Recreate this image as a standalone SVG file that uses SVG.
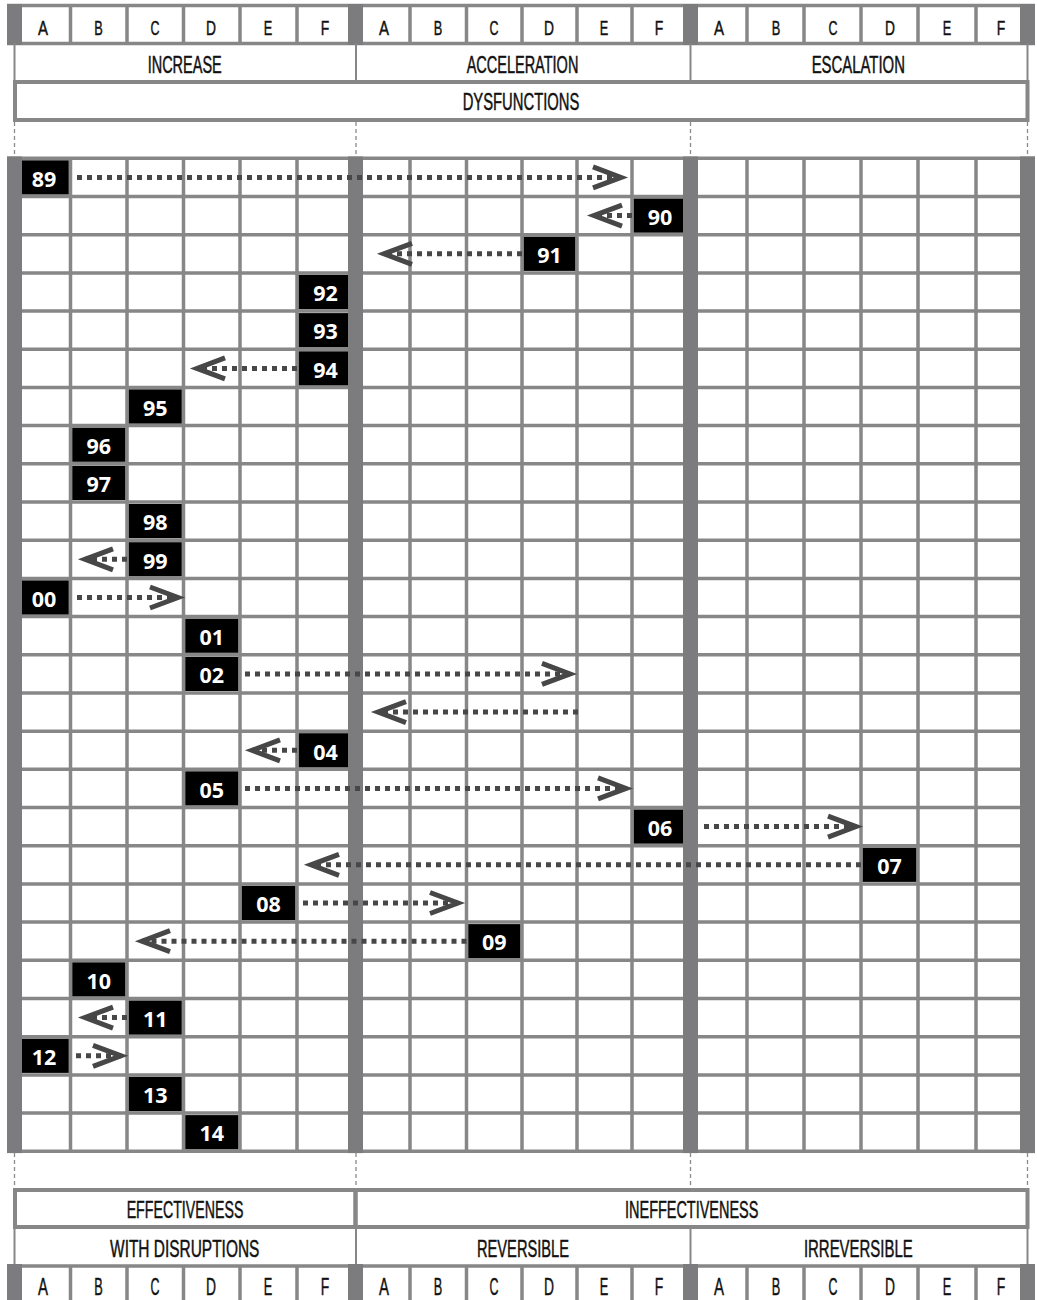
<svg xmlns="http://www.w3.org/2000/svg" width="1037" height="1300" viewBox="0 0 1037 1300">
<style>
.ln{stroke:#878787;stroke-width:3.5;fill:none}
.thin{stroke:#878787;stroke-width:2;fill:none}
.bar{fill:#7c7c7e}
.dsh{stroke:#8a8a8a;stroke-width:1.3;stroke-dasharray:4 3;fill:none}
.box{fill:none;stroke:#878787;stroke-width:4}
.hl{font-family:"Liberation Sans",Arial,sans-serif;font-size:21px;fill:#111;stroke:#111;stroke-width:0.45;text-anchor:middle}
.bl{font-family:"Liberation Sans",Arial,sans-serif;font-size:23px;fill:#111;stroke:#111;stroke-width:0.45;text-anchor:middle}
.sec{font-family:"Liberation Sans",Arial,sans-serif;font-size:24px;fill:#111;stroke:#111;stroke-width:0.5;text-anchor:middle}
.nb{fill:#000}
.lab{font-family:"Open Sans","DejaVu Sans",sans-serif;font-weight:700;font-size:21.5px;fill:#fff;text-anchor:middle}
.arr{stroke:#474747;stroke-width:5;stroke-dasharray:5 5;fill:none;marker-end:url(#ah)}
</style>
<defs>
<marker id="ah" markerUnits="userSpaceOnUse" viewBox="-40 -20 60 40" markerWidth="60" markerHeight="40" refX="0" refY="0" orient="auto" overflow="visible">
<path d="M-28,-10.5 L0,0 L-28,10.5" fill="none" stroke="#474747" stroke-width="5" stroke-linejoin="miter" stroke-miterlimit="6"/>
</marker>
</defs>
<rect x="0" y="0" width="1037" height="1300" fill="#fff"/>

<!-- top column header -->
<g id="top-header">
<path class="ln" d="M7,5.5H1035M7,43.5H1035M70.5,5.5V43.5M127,5.5V43.5M183.5,5.5V43.5M240,5.5V43.5M297,5.5V43.5M410,5.5V43.5M466.5,5.5V43.5M522,5.5V43.5M577,5.5V43.5M632,5.5V43.5M747,5.5V43.5M804,5.5V43.5M861,5.5V43.5M918,5.5V43.5M976,5.5V43.5"/>
<rect class="bar" x="7" y="4" width="15" height="41"/>
<rect class="bar" x="348" y="4" width="15" height="41"/>
<rect class="bar" x="683" y="4" width="15" height="41"/>
<rect class="bar" x="1020" y="4" width="15" height="41"/>
<text class="hl" x="43" y="34.5" textLength="10" lengthAdjust="spacingAndGlyphs">A</text>
<text class="hl" x="98.5" y="34.5" textLength="8.5" lengthAdjust="spacingAndGlyphs">B</text>
<text class="hl" x="155" y="34.5" textLength="9" lengthAdjust="spacingAndGlyphs">C</text>
<text class="hl" x="211" y="34.5" textLength="10" lengthAdjust="spacingAndGlyphs">D</text>
<text class="hl" x="268" y="34.5" textLength="8.5" lengthAdjust="spacingAndGlyphs">E</text>
<text class="hl" x="325" y="34.5" textLength="8.5" lengthAdjust="spacingAndGlyphs">F</text>
<text class="hl" x="384" y="34.5" textLength="10" lengthAdjust="spacingAndGlyphs">A</text>
<text class="hl" x="438" y="34.5" textLength="8.5" lengthAdjust="spacingAndGlyphs">B</text>
<text class="hl" x="494" y="34.5" textLength="9" lengthAdjust="spacingAndGlyphs">C</text>
<text class="hl" x="549" y="34.5" textLength="10" lengthAdjust="spacingAndGlyphs">D</text>
<text class="hl" x="604" y="34.5" textLength="8.5" lengthAdjust="spacingAndGlyphs">E</text>
<text class="hl" x="659" y="34.5" textLength="8.5" lengthAdjust="spacingAndGlyphs">F</text>
<text class="hl" x="719" y="34.5" textLength="10" lengthAdjust="spacingAndGlyphs">A</text>
<text class="hl" x="776" y="34.5" textLength="8.5" lengthAdjust="spacingAndGlyphs">B</text>
<text class="hl" x="833" y="34.5" textLength="9" lengthAdjust="spacingAndGlyphs">C</text>
<text class="hl" x="890" y="34.5" textLength="10" lengthAdjust="spacingAndGlyphs">D</text>
<text class="hl" x="947" y="34.5" textLength="8.5" lengthAdjust="spacingAndGlyphs">E</text>
<text class="hl" x="1001" y="34.5" textLength="8.5" lengthAdjust="spacingAndGlyphs">F</text>
</g>

<g id="top-sections">
<path class="thin" d="M14.5,43.5V82M356,43.5V82M690.5,43.5V82M1027.5,43.5V82"/>
<text class="sec" x="184.7" y="73.3" textLength="74" lengthAdjust="spacingAndGlyphs">INCREASE</text>
<text class="sec" x="522.5" y="73" textLength="111.7" lengthAdjust="spacingAndGlyphs">ACCELERATION</text>
<text class="sec" x="858.3" y="73" textLength="93.3" lengthAdjust="spacingAndGlyphs">ESCALATION</text>
</g>
<g id="dysfunctions">
<rect class="box" x="15" y="82" width="1012.5" height="38"/>
<text class="sec" x="521" y="110" textLength="116.7" lengthAdjust="spacingAndGlyphs">DYSFUNCTIONS</text>
</g>
<path class="dsh" d="M14.5,122V157M356,122V157M690.5,122V157M1027.5,122V157"/>

<!-- main grid -->
<g id="grid">
<path class="ln" d="M7,158.3H1035M7,196.5H1035M7,234.7H1035M7,272.9H1035M7,311.1H1035M7,349.3H1035M7,387.4H1035M7,425.6H1035M7,463.8H1035M7,502H1035M7,540.2H1035M7,578.4H1035M7,616.6H1035M7,654.8H1035M7,693H1035M7,731.2H1035M7,769.3H1035M7,807.5H1035M7,845.7H1035M7,883.9H1035M7,922.1H1035M7,960.3H1035M7,998.5H1035M7,1036.7H1035M7,1074.9H1035M7,1113.1H1035M7,1151.3H1035"/>
<path class="ln" d="M70.5,158.3V1151.3M127,158.3V1151.3M183.5,158.3V1151.3M240,158.3V1151.3M297,158.3V1151.3M410,158.3V1151.3M466.5,158.3V1151.3M522,158.3V1151.3M577,158.3V1151.3M632,158.3V1151.3M747,158.3V1151.3M804,158.3V1151.3M861,158.3V1151.3M918,158.3V1151.3M976,158.3V1151.3"/>
<rect class="bar" x="7" y="156.5" width="15" height="996.6"/>
<rect class="bar" x="348" y="156.5" width="15" height="996.6"/>
<rect class="bar" x="683" y="156.5" width="15" height="996.6"/>
<rect class="bar" x="1020" y="156.5" width="15" height="996.6"/>
</g>

<!-- connectors -->
<g id="connectors">
<path class="arr" d="M77,177.4H621"/>
<path class="arr" d="M632,215.6H594"/>
<path class="arr" d="M522,253.8H384"/>
<path class="arr" d="M297,368.4H197"/>
<path class="arr" d="M127,559.3H85"/>
<path class="arr" d="M77,597.5H178"/>
<path class="arr" d="M245,673.9H570"/>
<path class="arr" d="M578,712.1H378"/>
<path class="arr" d="M297,750.3H252"/>
<path class="arr" d="M245,788.4H626"/>
<path class="arr" d="M704,826.6H856"/>
<path class="arr" d="M861,864.8H311"/>
<path class="arr" d="M303,903H458"/>
<path class="arr" d="M466.5,941.2H142"/>
<path class="arr" d="M127,1017.6H85"/>
<path class="arr" d="M76,1055.8H121"/>
</g>

<!-- nodes -->
<g id="n89"><rect class="nb" x="22" y="160.3" width="46.75" height="34.2"/><text class="lab" x="44" y="186.6">89</text></g>
<g id="n90"><rect class="nb" x="633.75" y="198.5" width="49.25" height="34.2"/><text class="lab" x="660" y="224.8">90</text></g>
<g id="n91"><rect class="nb" x="523.75" y="236.7" width="51.5" height="34.2"/><text class="lab" x="549.5" y="263">91</text></g>
<g id="n92"><rect class="nb" x="298.75" y="274.9" width="49.25" height="34.2"/><text class="lab" x="325.5" y="301.2">92</text></g>
<g id="n93"><rect class="nb" x="298.75" y="313.1" width="49.25" height="34.2"/><text class="lab" x="325.5" y="339.4">93</text></g>
<g id="n94"><rect class="nb" x="298.75" y="351.3" width="49.25" height="34.2"/><text class="lab" x="325.5" y="377.6">94</text></g>
<g id="n95"><rect class="nb" x="128.75" y="389.4" width="53" height="34.2"/><text class="lab" x="155.2" y="415.7">95</text></g>
<g id="n96"><rect class="nb" x="72.25" y="427.6" width="53" height="34.2"/><text class="lab" x="98.7" y="453.9">96</text></g>
<g id="n97"><rect class="nb" x="72.25" y="465.8" width="53" height="34.2"/><text class="lab" x="98.7" y="492.1">97</text></g>
<g id="n98"><rect class="nb" x="128.75" y="504" width="53" height="34.2"/><text class="lab" x="155.2" y="530.3">98</text></g>
<g id="n99"><rect class="nb" x="128.75" y="542.2" width="53" height="34.2"/><text class="lab" x="155.2" y="568.5">99</text></g>
<g id="n00"><rect class="nb" x="22" y="580.4" width="46.75" height="34.2"/><text class="lab" x="44" y="606.7">00</text></g>
<g id="n01"><rect class="nb" x="185.25" y="618.6" width="53" height="34.2"/><text class="lab" x="211.7" y="644.9">01</text></g>
<g id="n02"><rect class="nb" x="185.25" y="656.8" width="53" height="34.2"/><text class="lab" x="211.7" y="683.1">02</text></g>
<g id="n04"><rect class="nb" x="298.75" y="733.2" width="49.25" height="34.2"/><text class="lab" x="325.5" y="759.5">04</text></g>
<g id="n05"><rect class="nb" x="185.25" y="771.3" width="53" height="34.2"/><text class="lab" x="211.7" y="797.6">05</text></g>
<g id="n06"><rect class="nb" x="633.75" y="809.5" width="49.25" height="34.2"/><text class="lab" x="660" y="835.8">06</text></g>
<g id="n07"><rect class="nb" x="862.75" y="847.7" width="53.5" height="34.2"/><text class="lab" x="889.5" y="874">07</text></g>
<g id="n08"><rect class="nb" x="241.75" y="885.9" width="53.5" height="34.2"/><text class="lab" x="268.5" y="912.2">08</text></g>
<g id="n09"><rect class="nb" x="468.25" y="924.1" width="52" height="34.2"/><text class="lab" x="494.2" y="950.4">09</text></g>
<g id="n10"><rect class="nb" x="72.25" y="962.3" width="53" height="34.2"/><text class="lab" x="98.7" y="988.6">10</text></g>
<g id="n11"><rect class="nb" x="128.75" y="1000.5" width="53" height="34.2"/><text class="lab" x="155.2" y="1026.8">11</text></g>
<g id="n12"><rect class="nb" x="22" y="1038.7" width="46.75" height="34.2"/><text class="lab" x="44" y="1065">12</text></g>
<g id="n13"><rect class="nb" x="128.75" y="1076.9" width="53" height="34.2"/><text class="lab" x="155.2" y="1103.2">13</text></g>
<g id="n14"><rect class="nb" x="185.25" y="1115.1" width="53" height="34.2"/><text class="lab" x="211.7" y="1141.4">14</text></g>

<!-- bottom -->
<path class="dsh" d="M14.5,1153V1188M356,1153V1188M690.5,1153V1188M1027.5,1153V1188"/>
<g id="effectiveness">
<rect class="box" x="15" y="1190" width="340.5" height="37"/>
<text class="sec" x="185" y="1218.3" textLength="116.7" lengthAdjust="spacingAndGlyphs">EFFECTIVENESS</text>
</g>
<g id="ineffectiveness">
<rect class="box" x="355.5" y="1190" width="672" height="37"/>
<text class="sec" x="691.7" y="1218.3" textLength="133.3" lengthAdjust="spacingAndGlyphs">INEFFECTIVENESS</text>
</g>
<g id="bottom-sections">
<path class="thin" d="M14.5,1228V1266M356,1228V1266M690.5,1228V1266M1027.5,1228V1266"/>
<text class="sec" x="184.7" y="1256.7" textLength="149.3" lengthAdjust="spacingAndGlyphs">WITH DISRUPTIONS</text>
<text class="sec" x="523" y="1256.7" textLength="92" lengthAdjust="spacingAndGlyphs">REVERSIBLE</text>
<text class="sec" x="858.3" y="1256.7" textLength="108.7" lengthAdjust="spacingAndGlyphs">IRREVERSIBLE</text>
</g>
<g id="bottom-header">
<path class="ln" d="M7,1266H1035M70.5,1266V1300M127,1266V1300M183.5,1266V1300M240,1266V1300M297,1266V1300M410,1266V1300M466.5,1266V1300M522,1266V1300M577,1266V1300M632,1266V1300M747,1266V1300M804,1266V1300M861,1266V1300M918,1266V1300M976,1266V1300"/>
<rect class="bar" x="7" y="1264" width="15" height="36"/>
<rect class="bar" x="348" y="1264" width="15" height="36"/>
<rect class="bar" x="683" y="1264" width="15" height="36"/>
<rect class="bar" x="1020" y="1264" width="15" height="36"/>
<text class="bl" x="43" y="1295" textLength="10" lengthAdjust="spacingAndGlyphs">A</text>
<text class="bl" x="98.5" y="1295" textLength="8.5" lengthAdjust="spacingAndGlyphs">B</text>
<text class="bl" x="155" y="1295" textLength="9" lengthAdjust="spacingAndGlyphs">C</text>
<text class="bl" x="211" y="1295" textLength="10" lengthAdjust="spacingAndGlyphs">D</text>
<text class="bl" x="268" y="1295" textLength="8.5" lengthAdjust="spacingAndGlyphs">E</text>
<text class="bl" x="325" y="1295" textLength="8.5" lengthAdjust="spacingAndGlyphs">F</text>
<text class="bl" x="384" y="1295" textLength="10" lengthAdjust="spacingAndGlyphs">A</text>
<text class="bl" x="438" y="1295" textLength="8.5" lengthAdjust="spacingAndGlyphs">B</text>
<text class="bl" x="494" y="1295" textLength="9" lengthAdjust="spacingAndGlyphs">C</text>
<text class="bl" x="549" y="1295" textLength="10" lengthAdjust="spacingAndGlyphs">D</text>
<text class="bl" x="604" y="1295" textLength="8.5" lengthAdjust="spacingAndGlyphs">E</text>
<text class="bl" x="659" y="1295" textLength="8.5" lengthAdjust="spacingAndGlyphs">F</text>
<text class="bl" x="719" y="1295" textLength="10" lengthAdjust="spacingAndGlyphs">A</text>
<text class="bl" x="776" y="1295" textLength="8.5" lengthAdjust="spacingAndGlyphs">B</text>
<text class="bl" x="833" y="1295" textLength="9" lengthAdjust="spacingAndGlyphs">C</text>
<text class="bl" x="890" y="1295" textLength="10" lengthAdjust="spacingAndGlyphs">D</text>
<text class="bl" x="947" y="1295" textLength="8.5" lengthAdjust="spacingAndGlyphs">E</text>
<text class="bl" x="1001" y="1295" textLength="8.5" lengthAdjust="spacingAndGlyphs">F</text>
</g>
</svg>
